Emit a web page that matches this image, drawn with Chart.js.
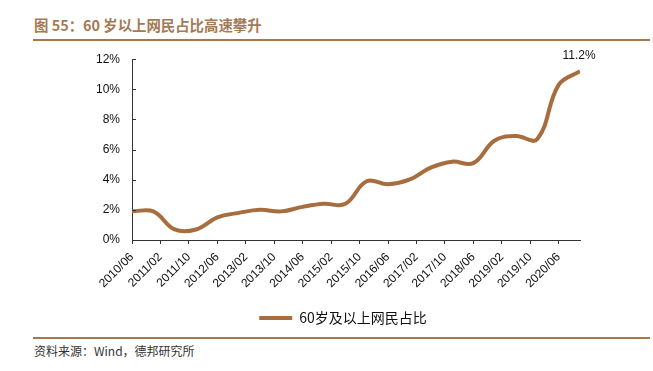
<!DOCTYPE html>
<html>
<head>
<meta charset="utf-8">
<script src="https://cdn.jsdelivr.net/npm/chart.js@4"></script>
<style>
  html, body { margin: 0; padding: 0; background: #fff; }
  body { width: 653px; height: 371px; position: relative; overflow: hidden; font-family: "Liberation Sans", Arial, sans-serif; }
  #title { position: absolute; left: 34px; top: 14px; font: bold 14.4px "Noto Sans CJK SC", sans-serif; color: #a47a55; letter-spacing: 0px; white-space: nowrap; }
  #topline { position: absolute; left: 33px; top: 39px; width: 617px; height: 2px; background: #a8774e; }
  #botline { position: absolute; left: 33px; top: 337px; width: 617px; height: 2px; background: #a8774e; }
  #source { position: absolute; left: 34px; top: 342px; font: 12px "Noto Sans CJK SC", sans-serif; color: #333; white-space: nowrap; }
  #wrap { position: absolute; left: 0; top: 40px; width: 653px; height: 295px; }
</style>
</head>
<body>
<div id="title">图 55：60 岁以上网民占比高速攀升</div>
<div id="topline"></div>
<div id="wrap"><canvas id="c"></canvas></div>
<div id="botline"></div>
<div id="source">资料来源：Wind，德邦研究所</div>
<script>
// ---- data ----
const periods = ['2010/06','2010/12','2011/06','2011/12','2012/06','2012/12','2013/06','2013/12','2014/06','2014/12','2015/06','2015/12','2016/06','2016/12','2017/06','2017/12','2018/06','2018/12','2019/06','2019/12','2020/06','2020/12'];
const shareAged60Plus = [1.9,1.9,0.7,0.7,1.5,1.8,2.0,1.9,2.2,2.4,2.4,3.9,3.7,4.0,4.8,5.2,5.1,6.6,6.9,6.7,10.3,11.2];
const xTickLabels = ['2010/06','2011/02','2011/10','2012/06','2013/02','2013/10','2014/06','2015/02','2015/10','2016/06','2017/02','2017/10','2018/06','2019/02','2019/10','2020/06'];
const yTickValues = [0,2,4,6,8,10,12];
const seriesName = '60岁及以上网民占比';
const lastLabel = '11.2%';

// month offset from 2010/06
function monthIndex(s) {
  const [y, m] = s.split('/').map(Number);
  return (y - 2010) * 12 + (m - 6);
}
const points = periods.map((p, i) => ({ x: monthIndex(p), y: shareAged60Plus[i] }));
const tickMap = {};
xTickLabels.forEach(l => { tickMap[monthIndex(l)] = l; });

const LINE = '#a86d3e';

const extras = {
  id: 'extras',
  afterLayout(chart) {
    const lg = chart.legend;
    if (lg) { lg.left += 53; lg.right += 53; }
  },
  afterDraw(chart) {
    const ctx = chart.ctx;
    const ys = chart.scales.y, xs = chart.scales.x;
    ctx.save();
    // inward y ticks
    ctx.strokeStyle = '#333';
    ctx.lineWidth = 1;
    yTickValues.forEach(v => {
      const py = Math.round(ys.getPixelForValue(v)) + 0.5;
      ctx.beginPath();
      ctx.moveTo(xs.left, py);
      ctx.lineTo(xs.left + 4, py);
      ctx.stroke();
    });
    // last value label
    const meta = chart.getDatasetMeta(0);
    const pt = meta.data[meta.data.length - 1];
    ctx.fillStyle = '#111';
    ctx.font = '12px "Liberation Sans", Arial, sans-serif';
    ctx.textAlign = 'center';
    ctx.textBaseline = 'middle';
    ctx.fillText(lastLabel, pt.x - 1, pt.y - 16);
    ctx.restore();
  }
};

new Chart(document.getElementById('c'), {
  type: 'line',
  data: {
    datasets: [{
      label: seriesName,
      data: points,
      borderColor: LINE,
      backgroundColor: LINE,
      borderWidth: 4,
      pointRadius: 0,
      tension: 0.4,
      fill: false
    }]
  },
  options: {
    responsive: true,
    maintainAspectRatio: false,
    animation: false,
    layout: { padding: { top: 19, right: 73, left: 0, bottom: 0 } },
    plugins: {
      tooltip: { enabled: false },
      legend: {
        position: 'bottom',
        labels: {
          color: '#111',
          font: { family: '"Noto Sans CJK SC", sans-serif', size: 14 },
          usePointStyle: true,
          pointStyleWidth: 33,
          boxHeight: 12,
          padding: 10,
          generateLabels(chart) {
            const items = Chart.defaults.plugins.legend.labels.generateLabels(chart);
            items.forEach(it => { it.pointStyle = 'line'; it.lineWidth = 4; it.strokeStyle = LINE; it.fillStyle = LINE; });
            return items;
          }
        }
      }
    },
    scales: {
      x: {
        type: 'linear',
        min: 0,
        max: monthIndex(periods[periods.length - 1]),
        afterBuildTicks(scale) {
          scale.ticks = xTickLabels.map(l => ({ value: monthIndex(l) }));
        },
        afterFit(scale) { scale.height = 61; },
        border: { display: true, color: '#333', width: 1 },
        grid: { display: true, drawOnChartArea: false, drawTicks: true, tickLength: 4, color: '#333' },
        ticks: {
          minRotation: 45, maxRotation: 45, autoSkip: false,
          color: '#111',
          font: { family: '"Liberation Sans", Arial, sans-serif', size: 12 },
          padding: 6,
          callback: (v) => tickMap[v] ?? ''
        }
      },
      y: {
        min: 0, max: 12,
        afterBuildTicks(scale) { scale.ticks = yTickValues.map(v => ({ value: v })); },
        afterFit(scale) { scale.width = 132; },
        border: { display: true, color: '#333', width: 1 },
        grid: { display: false, drawTicks: false },
        ticks: {
          color: '#111',
          font: { family: '"Liberation Sans", Arial, sans-serif', size: 12 },
          padding: 12,
          callback: (v) => v + '%'
        }
      }
    }
  },
  plugins: [extras]
});
</script>
</body>
</html>
